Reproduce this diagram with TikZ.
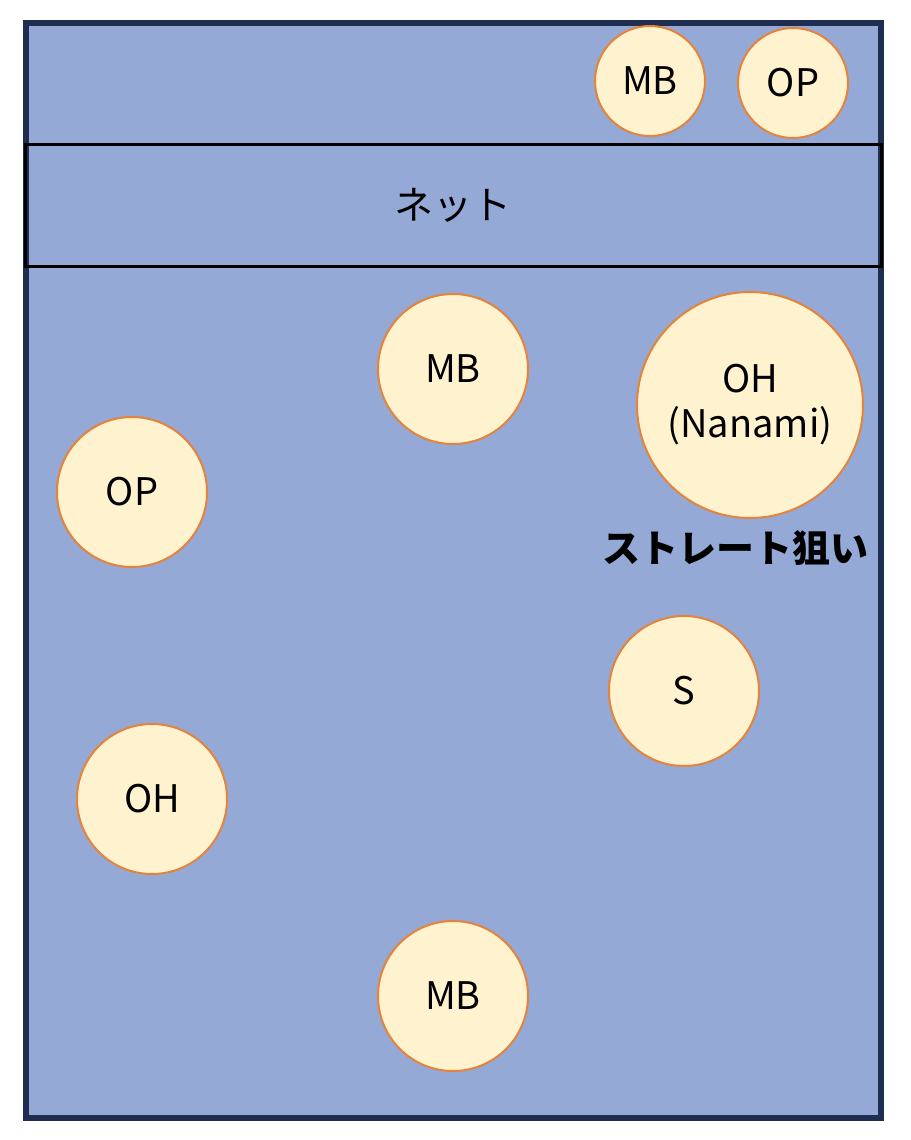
\documentclass[tikz,border=0pt]{standalone}
\usepackage{fontspec}
\setmainfont{Noto Sans CJK JP}
\definecolor{court}{RGB}{149,169,214}
\definecolor{frame}{RGB}{31,45,80}
\definecolor{cream}{RGB}{255,242,207}
\definecolor{ring}{RGB}{228,132,60}
\tikzset{
  player/.style={circle, draw=ring, line width=2pt, fill=cream, minimum size=#1, inner sep=0pt, align=center, font=\fontsize{38}{45}\selectfont},
  player/.default=150pt
}
\begin{document}
\begin{tikzpicture}[x=1pt,y=-1pt]
\useasboundingbox (0,0) rectangle (910,1140);
\node[draw=frame, line width=6pt, fill=court, minimum width=855pt, minimum height=1095pt, inner sep=0pt] (court) at (453.5,570.5) {};
\node[draw=black, line width=3pt, minimum width=856pt, minimum height=122pt, inner sep=0pt, font=\fontsize{39}{45}\selectfont] (net) at (453,205.5) {ネット};
\node[player=110pt] (mb1) at (650,81) {MB};
\node[player=110pt] (op1) at (793,83) {OP};
\node[player] (mb2) at (453,369) {MB};
\node[player=226pt] (oh1) at (750,405) {OH\\(Nanami)};
\node[player] (op2) at (132,492) {OP};
\node[player] (s) at (684,691) {S};
\node[player] (oh2) at (152,799) {OH};
\node[player] (mb3) at (453,996) {MB};
\node[font=\bfseries\fontsize{38}{45}\selectfont, inner sep=0pt] (lbl) at (735,548) {ストレート狙い};
\end{tikzpicture}
\end{document}
